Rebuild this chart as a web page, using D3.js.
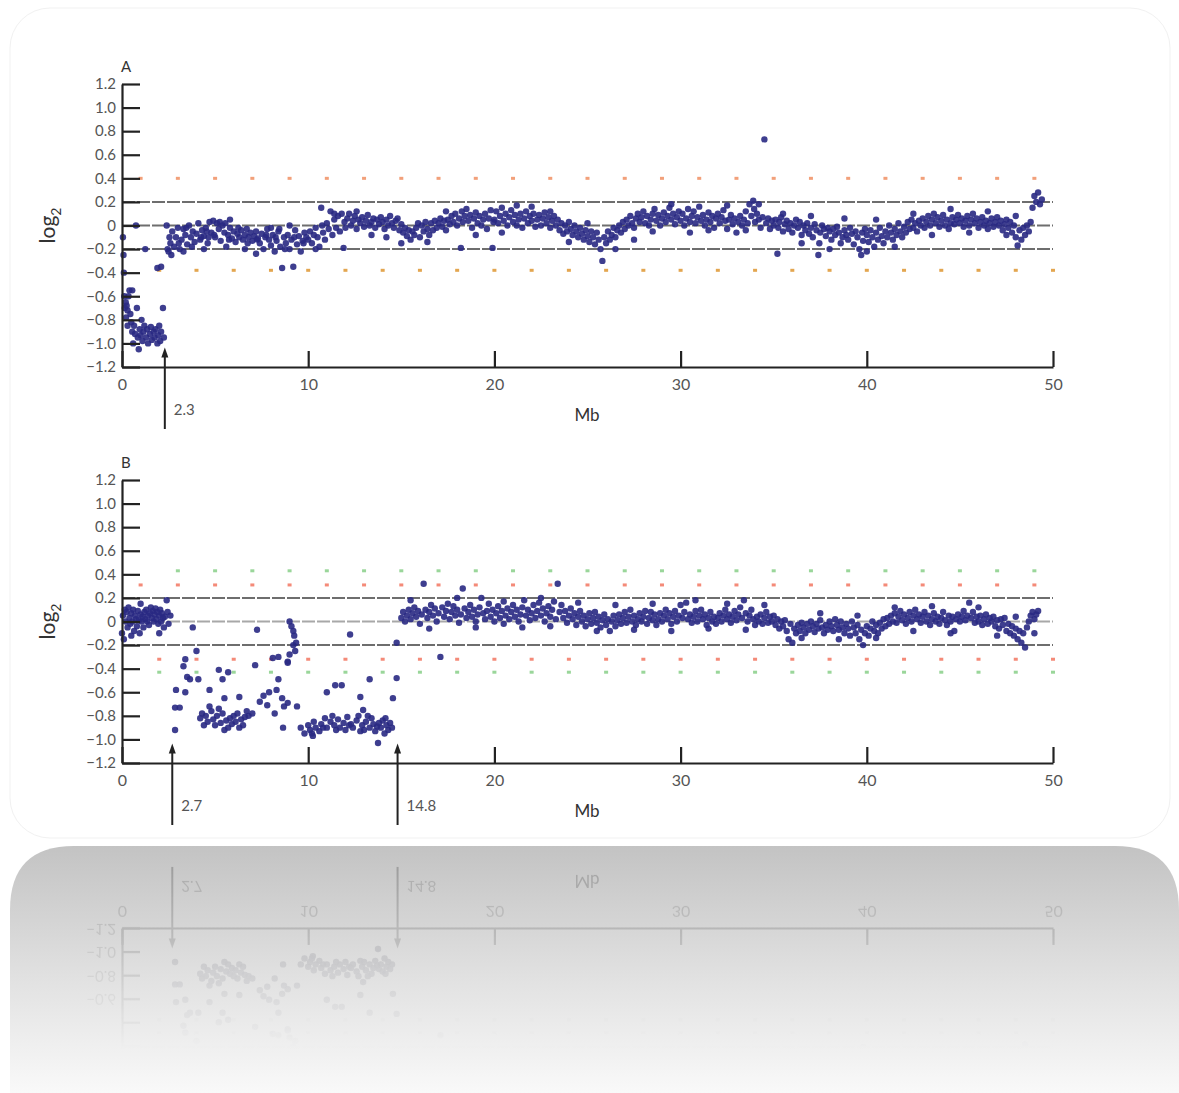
<!DOCTYPE html>
<html lang="en">
<head>
<meta charset="utf-8">
<title>Array CGH log2 profiles</title>
<script src="https://d3js.org/d3.v7.min.js"></script>
<style>
  body { margin: 0; background: #fff; }
  text { font-family: "Lato", "DejaVu Sans", sans-serif; }
</style>
</head>
<body>
<script>
// ---- data (Mb position, log2 ratio) ----
var xTicks = [0, 10, 20, 30, 40, 50];
var yTicks = [1.2, 1.0, 0.8, 0.6, 0.4, 0.2, 0, -0.2, -0.4, -0.6, -0.8, -1.0, -1.2];
var yTickLabels = ["1.2", "1.0", "0.8", "0.6", "0.4", "0.2", "0", "\u22120.2", "\u22120.4", "\u22120.6", "\u22120.8", "\u22121.0", "\u22121.2"];
var refLines = [0.2, 0, -0.2];
var oddMb = [1,3,5,7,9,11,13,15,17,19,21,23,25,27,29,31,33,35,37,39,41,43,45,47,49];
var evenMb = [2,4,6,8,10,12,14,16,18,20,22,24,26,28,30,32,34,36,38,40,42,44,46,48,50];
var breaksA = [2.3];
var breaksB = [2.7, 14.8];

var a0 = [[0.05,-0.1],[0.08,-0.25],[0.1,-0.4],[0.12,-0.6],[0.15,-0.7],[0.2,-0.65],[0.22,-0.78],[0.25,-0.68],[0.3,-0.72],[0.3,-0.85],[0.35,-0.6],[0.4,-0.55],[0.45,-0.75],[0.5,-0.82],[0.55,-0.9],[0.55,-0.55],[0.6,-1.0],[0.65,-0.85],[0.7,-0.92],[0.75,0.0],[0.8,-0.7],[0.85,-0.95],[0.9,-1.05],[0.95,-0.88],[1.0,-0.93],[1.05,-0.8],[1.1,-0.98],[1.15,-0.9],[1.2,-0.85],[1.25,-0.2],[1.3,-0.95],[1.35,-0.88],[1.4,-1.0],[1.5,-0.92],[1.55,-0.86],[1.6,-0.97],[1.7,-0.9],[1.75,-0.95],[1.8,-0.88],[1.9,-1.0],[1.9,-0.36],[1.95,-0.93],[2.0,-0.85],[2.05,-0.98],[2.1,-0.9],[2.1,-0.35],[2.2,-0.7],[2.25,-0.95],
  [2.4,0.0],[2.45,-0.2],[2.5,-0.22],[2.55,-0.1],[2.6,-0.15],[2.65,-0.25],[2.7,-0.05],[2.8,-0.18],[2.9,-0.1],[3.0,-0.02],[3.05,-0.15],[3.1,-0.2],[3.2,-0.12],[3.3,-0.03],[3.4,-0.08],[3.45,-0.02],[3.5,-0.16],[3.6,0.0],[3.7,-0.1],[3.75,-0.18],[3.8,-0.05],[3.9,-0.14],[4.0,-0.07],[4.1,0.02],[4.2,-0.12],[4.25,-0.1],[4.3,-0.04],[4.4,-0.09],[4.5,-0.02],[4.55,-0.05],[4.6,-0.15],[4.65,-0.1],[4.7,0.03],[4.8,-0.06],[4.9,0.04],[4.95,-0.08],[5.0,-0.1],[5.1,0.02],[5.2,-0.03],[5.25,0.03],[5.3,-0.13],[5.4,0.0],[5.5,-0.06],[5.55,0.02],[5.6,-0.18],[5.7,-0.08],[5.75,-0.12],[5.8,-0.02],[5.9,-0.11],[6.0,-0.05],[6.1,-0.14],[6.2,-0.07],[6.25,-0.02],[6.3,-0.1],[6.4,-0.04],[6.5,-0.12],[6.6,-0.08],[6.7,-0.03],[6.75,-0.15],[6.8,-0.1],[6.9,-0.06],[7.0,-0.13],[7.1,-0.09],[7.2,-0.05],[7.25,-0.12],[7.3,-0.11],[7.4,-0.15],[7.5,-0.07],[7.6,-0.2],[7.7,-0.1],[7.75,-0.08],[7.8,-0.03],[7.9,-0.12],[8.0,-0.17],[8.1,-0.08],[8.2,-0.22],[8.25,-0.1],[8.3,-0.13],[8.4,-0.05],[8.45,-0.03],[8.5,-0.18],[8.6,-0.36],[8.7,-0.1],[8.75,-0.2],[8.8,-0.15],[8.9,-0.08],[9.0,-0.2],[9.1,-0.12],[9.2,-0.35],[9.25,-0.1],[9.3,-0.04],[9.4,-0.16],[9.5,-0.09],[9.6,-0.22],[9.7,-0.13],[9.75,-0.15],[9.8,-0.06],[9.9,-0.1]];
var a10 = [[10.0,-0.12],[10.1,-0.05],[10.2,-0.15],[10.3,-0.08],[10.4,-0.02],[10.5,-0.1],[10.6,-0.18],[10.7,0.15],[10.75,0.0],[10.8,-0.06],[10.9,-0.12],[11.0,0.02],[11.1,-0.03],[11.2,0.12],[11.3,-0.08],[11.4,0.05],[11.5,-0.02],[11.6,0.08],[11.7,-0.05],[11.8,0.1],[11.9,-0.19],[11.95,0.03],[12.0,-0.02],[12.1,0.06],[12.2,0.1],[12.3,0.0],[12.4,0.04],[12.5,0.08],[12.6,-0.03],[12.7,0.05],[12.8,0.02],[12.9,0.07],[13.0,-0.01],[13.1,0.04],[13.2,0.09],[13.3,0.0],[13.4,0.03],[13.5,0.06],[13.6,-0.02],[13.7,0.05],[13.8,0.01],[13.9,0.07],[14.0,0.03],[14.1,-0.03],[14.2,0.05],[14.3,0.0],[14.4,0.08],[14.5,0.02],[14.6,-0.02],[14.7,0.04],[14.8,0.06],[14.9,-0.04],[15.0,0.01],[15.1,-0.06],[15.2,-0.02],[15.3,-0.09],[15.4,-0.04],[15.5,-0.12],[15.6,-0.05],[15.7,-0.08],[15.8,-0.02],[15.9,0.02],[16.0,-0.1],[16.1,0.0],[16.2,-0.05],[16.3,0.03],[16.4,-0.03],[16.5,-0.08],[16.6,0.02],[16.7,-0.04],[16.8,0.04],[16.9,-0.02],[17.0,0.02],[17.1,0.06],[17.2,-0.01],[17.3,0.04],[17.4,-0.04],[17.5,0.05],[17.6,0.01],[17.7,0.08],[17.8,0.03],[17.9,0.1],[18.0,0.0],[18.1,0.06],[18.2,-0.19],[18.25,0.12],[18.3,0.03],[18.4,0.08],[18.5,0.14],[18.6,0.04],[18.7,0.09],[18.8,-0.02],[18.9,0.06],[19.0,0.11],[19.1,0.02],[19.2,0.08],[19.3,0.0],[19.4,0.05],[19.5,0.1],[19.6,-0.03],[19.7,0.06],[19.8,0.13],[19.9,-0.19],[19.95,0.03]];
var a20 = [[20.0,0.05],[20.1,0.12],[20.2,0.02],[20.3,0.08],[20.4,0.15],[20.5,0.04],[20.6,0.1],[20.7,0.0],[20.8,0.07],[20.9,0.13],[21.0,0.03],[21.1,0.09],[21.2,0.17],[21.3,0.05],[21.4,0.1],[21.5,-0.02],[21.6,0.06],[21.7,0.12],[21.8,0.02],[21.9,0.08],[22.0,0.04],[22.1,0.1],[22.2,-0.01],[22.3,0.05],[22.4,0.09],[22.5,0.0],[22.6,0.06],[22.7,0.11],[22.8,0.02],[22.9,0.07],[23.0,-0.02],[23.1,0.04],[23.2,0.08],[23.3,0.0],[23.4,0.05],[23.5,-0.04],[23.6,0.02],[23.7,-0.07],[23.8,0.0],[23.9,-0.05],[24.0,0.03],[24.1,-0.03],[24.2,-0.08],[24.3,0.0],[24.4,-0.05],[24.5,-0.1],[24.6,-0.02],[24.7,-0.07],[24.8,-0.12],[24.9,-0.04],[25.0,-0.09],[25.1,-0.14],[25.2,-0.05],[25.3,-0.1],[25.4,-0.16],[25.5,-0.06],[25.6,-0.12],[25.7,-0.2],[25.8,-0.3],[25.9,-0.1],[26.0,-0.15],[26.1,-0.05],[26.2,-0.12],[26.3,-0.08],[26.4,-0.02],[26.5,-0.1],[26.6,-0.04],[26.7,0.0],[26.8,-0.06],[26.9,0.03],[27.0,-0.03],[27.1,0.05],[27.2,0.0],[27.3,0.08],[27.4,0.02],[27.5,-0.02],[27.6,0.06],[27.7,0.1],[27.8,0.03],[27.9,0.07],[28.0,0.12],[28.1,0.02],[28.2,0.08],[28.3,0.0],[28.4,0.05],[28.5,0.1],[28.6,0.14],[28.7,0.04],[28.8,0.09],[28.9,0.0],[29.0,0.06],[29.1,0.11],[29.2,0.03],[29.3,0.08],[29.4,0.15],[29.5,0.05],[29.6,0.1],[29.7,0.01],[29.8,0.07],[29.9,0.12]];
var a30 = [[30.0,0.04],[30.1,0.1],[30.2,0.0],[30.3,0.06],[30.4,0.14],[30.5,0.03],[30.6,0.08],[30.7,0.12],[30.8,0.02],[30.9,0.07],[31.0,0.16],[31.1,0.04],[31.2,0.09],[31.3,0.0],[31.4,0.05],[31.5,0.11],[31.6,0.03],[31.7,0.08],[31.8,-0.02],[31.9,0.06],[32.0,0.1],[32.1,0.02],[32.2,0.07],[32.3,0.13],[32.4,0.04],[32.5,-0.03],[32.6,0.05],[32.7,0.09],[32.8,0.01],[32.9,0.06],[33.0,-0.06],[33.1,0.03],[33.2,0.08],[33.3,0.0],[33.4,0.05],[33.5,-0.04],[33.6,0.02],[33.7,0.18],[33.8,0.08],[33.9,0.21],[33.95,0.14],[34.0,0.03],[34.1,0.1],[34.2,0.05],[34.3,-0.02],[34.4,0.07],[34.5,0.73],[34.6,0.02],[34.7,0.06],[34.8,-0.03],[34.9,0.04],[35.0,0.0],[35.1,0.05],[35.2,-0.24],[35.25,-0.02],[35.3,0.03],[35.4,0.07],[35.5,-0.05],[35.6,0.01],[35.7,0.04],[35.8,-0.03],[35.9,0.02],[36.0,-0.06],[36.1,0.0],[36.2,0.05],[36.3,-0.02],[36.4,0.03],[36.5,-0.08],[36.6,0.0],[36.7,-0.04],[36.8,0.02],[36.9,-0.07],[37.0,-0.02],[37.1,-0.1],[37.2,0.01],[37.3,-0.04],[37.4,-0.25],[37.45,-0.15],[37.5,-0.06],[37.6,0.0],[37.7,-0.03],[37.8,-0.09],[37.9,-0.02],[38.0,-0.05],[38.1,-0.12],[38.2,-0.03],[38.3,-0.08],[38.4,-0.01],[38.5,-0.06],[38.6,-0.15],[38.7,-0.1],[38.8,-0.04],[38.9,-0.08],[39.0,-0.12],[39.1,-0.02],[39.2,-0.07],[39.3,-0.16],[39.4,-0.05],[39.5,-0.1],[39.6,-0.2],[39.7,-0.25],[39.75,-0.06],[39.8,-0.13],[39.9,-0.03]];
var a40 = [[40.0,-0.08],[40.1,-0.14],[40.2,-0.04],[40.3,-0.1],[40.4,-0.18],[40.5,-0.06],[40.6,-0.12],[40.7,-0.02],[40.8,-0.09],[40.9,-0.15],[41.0,-0.05],[41.1,-0.1],[41.2,0.0],[41.3,-0.06],[41.4,-0.12],[41.5,-0.03],[41.6,-0.08],[41.7,0.02],[41.8,-0.05],[41.9,-0.1],[42.0,-0.01],[42.1,-0.06],[42.2,0.03],[42.3,-0.03],[42.4,0.05],[42.5,-0.02],[42.6,0.02],[42.7,-0.05],[42.8,0.04],[42.9,0.0],[43.0,0.06],[43.1,-0.02],[43.2,0.03],[43.3,0.08],[43.4,0.0],[43.5,0.05],[43.6,0.1],[43.7,0.02],[43.8,0.07],[43.9,-0.01],[44.0,0.04],[44.1,0.09],[44.2,0.0],[44.3,0.05],[44.4,-0.03],[44.5,0.02],[44.6,0.07],[44.7,0.01],[44.8,0.05],[44.9,0.09],[45.0,0.02],[45.1,0.06],[45.2,-0.01],[45.3,0.04],[45.4,0.08],[45.5,0.0],[45.6,0.05],[45.7,0.1],[45.8,0.02],[45.9,0.06],[46.0,-0.02],[46.1,0.03],[46.2,0.07],[46.3,0.0],[46.4,0.04],[46.5,-0.03],[46.6,0.02],[46.7,0.06],[46.8,-0.01],[46.9,0.03],[47.0,0.07],[47.1,0.0],[47.2,0.04],[47.3,-0.04],[47.4,0.01],[47.5,0.05],[47.6,-0.02],[47.7,0.03],[47.8,-0.06],[47.9,0.0],[48.0,-0.1],[48.1,-0.17],[48.2,-0.04],[48.3,-0.12],[48.4,-0.02],[48.5,-0.08],[48.6,0.0],[48.7,-0.05],[48.8,0.03],[48.9,0.15],[49.0,0.25],[49.1,0.2],[49.2,0.28],[49.3,0.18],[49.4,0.22]];
var aScatter = [[3.3,-0.22],[4.4,-0.2],[5.8,0.05],[6.6,-0.2],[7.2,-0.24],[8.0,-0.02],[9.0,0.0],[10.4,-0.2],[11.4,0.1],[12.6,0.12],[13.4,-0.08],[14.2,-0.1],[15.0,-0.15],[16.4,-0.14],[17.4,0.12],[19.0,-0.08],[20.4,-0.06],[21.2,0.0],[22.0,0.16],[23.0,0.12],[24.0,-0.14],[25.0,0.02],[26.5,-0.2],[27.5,-0.12],[28.5,-0.05],[29.5,0.18],[30.5,-0.06],[31.5,-0.04],[32.5,0.17],[33.5,0.12],[34.2,0.18],[35.5,0.1],[36.5,-0.15],[37.0,0.08],[38.0,-0.2],[38.8,0.06],[40.0,-0.22],[40.5,0.05],[41.5,-0.18],[42.5,0.1],[43.5,-0.08],[44.5,0.14],[45.5,-0.06],[46.5,0.12],[47.5,-0.08],[48.0,0.08]];

var b0 = [[0.0,-0.1],[0.05,0.05],[0.1,-0.15],[0.15,0.1],[0.2,0.0],[0.25,0.08],[0.3,-0.05],[0.35,0.12],[0.4,0.03],[0.45,-0.02],[0.5,0.07],[0.5,-0.12],[0.55,0.0],[0.6,0.1],[0.65,-0.08],[0.7,0.05],[0.75,0.02],[0.8,-0.04],[0.85,0.09],[0.9,0.01],[0.95,-0.1],[1.0,0.06],[1.0,0.15],[1.05,0.0],[1.1,0.04],[1.15,-0.05],[1.2,0.08],[1.25,0.02],[1.3,0.1],[1.35,0.0],[1.4,0.05],[1.45,-0.03],[1.5,0.07],[1.55,0.12],[1.6,0.03],[1.65,0.09],[1.7,0.0],[1.75,0.06],[1.8,0.11],[1.85,0.02],[1.9,0.08],[1.95,-0.02],[2.0,0.05],[2.0,-0.1],[2.05,0.1],[2.1,0.0],[2.15,0.07],[2.2,0.03],[2.25,-0.05],[2.3,0.04],[2.4,0.18],[2.45,0.08],[2.5,-0.02],[2.6,0.05],
  [2.85,-0.92],[2.85,-0.73],[2.9,-0.58],[3.1,-0.73],[3.3,-0.38],[3.4,-0.32],[3.4,-0.6],[3.5,-0.47],[3.65,-0.49],[3.8,-0.05],[4.0,-0.25],[4.1,-0.49],
  [4.2,-0.82],[4.3,-0.78],[4.4,-0.88],[4.5,-0.8],[4.6,-0.85],[4.7,-0.58],[4.7,-0.72],[4.8,-0.76],[4.9,-0.83],[5.0,-0.88],[5.1,-0.8],[5.2,-0.41],[5.2,-0.74],[5.3,-0.86],[5.4,-0.49],[5.4,-0.78],[5.5,-0.65],[5.5,-0.92],[5.6,-0.84],[5.7,-0.43],[5.7,-0.9],[5.8,-0.82],[5.9,-0.87],[6.0,-0.8],[6.1,-0.85],[6.2,-0.78],[6.3,-0.64],[6.3,-0.9],[6.4,-0.83],[6.5,-0.88],[6.6,-0.81],[6.7,-0.76],[6.8,-0.8],[7.0,-0.78],
  [7.15,-0.37],[7.25,-0.07],[7.4,-0.68],[7.6,-0.63],[7.8,-0.71],[7.9,-0.6],[8.1,-0.31],[8.2,-0.78],[8.3,-0.58],[8.4,-0.49],[8.4,-0.3],[8.6,-0.65],[8.65,-0.9],[8.7,-0.72],[8.9,-0.34],[8.9,-0.69],[9.0,0.0],[9.0,-0.28],[9.1,-0.04],[9.2,-0.08],[9.2,-0.2],[9.25,-0.12],[9.3,-0.25],[9.35,-0.18],[9.4,-0.72],[8.9,-0.35],
  [9.6,-0.9],[9.8,-0.95],[10.0,-0.88],[10.1,-0.92],[10.2,-0.95],[10.25,-0.97],[10.3,-0.85],[10.4,-0.9],[10.6,-0.93],[10.7,-0.87],[10.8,-0.9],[10.9,-0.82],[11.0,-0.6],[11.0,-0.9],[11.2,-0.85],[11.3,-0.8],[11.4,-0.88],[11.45,-0.54],[11.5,-0.92],[11.6,-0.83],[11.7,-0.9],[11.8,-0.54],[11.9,-0.86],[12.0,-0.92],[12.1,-0.81],[12.2,-0.88],[12.25,-0.11],[12.3,-0.87],[12.4,-0.9],[12.6,-0.84],[12.7,-0.8],[12.8,-0.64],[12.8,-0.93],[12.9,-0.88],[12.95,-0.75],[13.0,-0.92],[13.1,-0.85],[13.2,-0.8],[13.3,-0.49],[13.3,-0.9],[13.4,-0.82],[13.5,-0.87],[13.6,-0.93],[13.7,-0.89],[13.75,-1.03],[13.8,-0.86],[13.9,-0.9],[14.0,-0.84],[14.1,-0.95],[14.15,-0.82],[14.2,-0.88],[14.3,-0.92],[14.4,-0.86],[14.5,-0.9],[14.55,-0.65],[14.75,-0.48],[14.75,-0.18]];
var b15 = [[15.0,0.03],[15.1,0.08],[15.2,0.0],[15.3,0.05],[15.4,0.1],[15.5,0.02],[15.6,0.07],[15.7,0.12],[15.8,0.04],[15.9,0.09],[16.0,-0.02],[16.1,0.06],[16.2,0.32],[16.3,0.1],[16.4,0.03],[16.5,0.08],[16.6,0.14],[16.7,0.05],[16.8,0.11],[16.9,0.0],[17.0,0.07],[17.1,-0.3],[17.2,0.12],[17.3,0.04],[17.4,0.09],[17.5,0.15],[17.6,0.02],[17.7,0.08],[17.8,0.13],[17.9,0.05],[18.0,0.1],[18.1,-0.01],[18.2,0.06],[18.3,0.28],[18.4,0.11],[18.5,0.03],[18.6,0.08],[18.7,0.14],[18.8,0.04],[18.9,0.1],[19.0,0.0],[19.1,0.06],[19.2,0.12],[19.3,0.2],[19.4,0.07],[19.5,0.02],[19.6,0.09],[19.7,0.15],[19.8,0.04],[19.9,0.1],
  [20.0,0.0],[20.1,0.07],[20.2,0.13],[20.3,0.03],[20.4,0.09],[20.5,-0.02],[20.6,0.05],[20.7,0.11],[20.8,0.02],[20.9,0.08],[21.0,0.14],[21.1,0.04],[21.2,0.1],[21.3,0.0],[21.4,0.06],[21.5,0.12],[21.6,0.18],[21.7,0.05],[21.8,0.1],[21.9,0.01],[22.0,0.07],[22.1,0.14],[22.2,0.03],[22.3,0.09],[22.4,0.16],[22.5,0.05],[22.6,0.11],[22.7,0.0],[22.8,0.07],[22.9,0.13],[23.0,0.04],[23.1,0.1],[23.2,0.17],[23.3,0.02],[23.4,0.32],[23.5,0.08],[23.6,0.14],[23.7,0.03],[23.8,0.09],[23.9,-0.01],[24.0,0.05],[24.1,0.11],[24.2,0.02],[24.3,0.07],[24.4,-0.03],[24.5,0.04],[24.6,0.09],[24.7,0.0],[24.8,0.05],[24.9,-0.04],[25.0,0.02],[25.1,0.07],[25.2,-0.02],[25.3,0.03],[25.4,0.08],[25.5,-0.01],[25.6,0.04],[25.7,-0.05],[25.8,0.01],[25.9,0.06],[26.0,-0.03],[26.1,0.02],[26.2,-0.08],[26.3,0.0],[26.4,0.05],[26.5,-0.04],[26.6,0.01],[26.7,0.06],[26.8,-0.02],[26.9,0.03],[27.0,0.08],[27.1,-0.01],[27.2,0.04],[27.3,0.1],[27.4,0.0],[27.5,0.05],[27.6,-0.03],[27.7,0.02],[27.8,0.07],[27.9,0.0],[28.0,0.04],[28.1,0.09],[28.2,-0.02],[28.3,0.03],[28.4,0.08],[28.5,0.01],[28.6,0.06],[28.7,-0.03],[28.8,0.02],[28.9,0.07],[29.0,0.0],[29.1,0.05],[29.2,0.1],[29.3,0.02],[29.4,0.07],[29.5,-0.02],[29.6,0.04],[29.7,0.09],[29.8,0.0],[29.9,0.05]];
var b30 = [[30.0,0.14],[30.1,0.03],[30.2,0.08],[30.3,0.16],[30.4,0.02],[30.5,0.06],[30.6,-0.01],[30.7,0.04],[30.8,0.09],[30.9,0.0],[31.0,0.05],[31.1,0.1],[31.2,0.02],[31.3,0.06],[31.4,-0.03],[31.5,0.03],[31.6,0.08],[31.7,0.0],[31.8,0.04],[31.9,-0.02],[32.0,0.03],[32.1,0.07],[32.2,0.0],[32.3,0.05],[32.4,0.1],[32.5,0.02],[32.6,0.06],[32.7,-0.01],[32.8,0.04],[32.9,0.09],[33.0,0.01],[33.1,0.06],[33.2,0.12],[33.3,0.03],[33.4,0.18],[33.5,0.07],[33.6,0.0],[33.7,0.05],[33.8,0.1],[33.9,0.02],[34.0,-0.03],[34.1,0.04],[34.2,0.0],[34.3,0.06],[34.4,-0.02],[34.5,0.03],[34.6,0.08],[34.7,-0.01],[34.8,0.04],[34.9,0.0],[35.0,0.05],[35.1,-0.03],[35.2,0.02],[35.3,-0.06],[35.4,0.0],[35.5,-0.04],[35.6,0.01],[35.7,-0.08],[35.8,-0.15],[35.9,-0.02],[36.0,-0.18],[36.1,-0.06],[36.2,-0.1],[36.3,-0.03],[36.4,-0.08],[36.5,-0.01],[36.6,-0.05],[36.7,-0.1],[36.8,-0.02],[36.9,-0.07],[37.0,0.0],[37.1,-0.04],[37.2,-0.09],[37.3,-0.02],[37.4,-0.06],[37.5,0.01],[37.6,-0.05],[37.7,-0.1],[37.8,-0.03],[37.9,-0.07],[38.0,0.0],[38.1,-0.04],[38.2,-0.08],[38.3,0.02],[38.4,-0.03],[38.5,-0.07],[38.6,0.0],[38.7,-0.05],[38.8,-0.1],[38.9,-0.02],[39.0,-0.06],[39.1,-0.12],[39.2,0.0],[39.3,-0.05],[39.4,-0.1],[39.5,-0.03],[39.6,-0.15],[39.7,-0.07],[39.8,-0.2],[39.9,-0.1],
  [40.0,-0.04],[40.1,-0.12],[40.2,-0.06],[40.3,0.0],[40.4,-0.08],[40.5,-0.03],[40.6,-0.1],[40.7,-0.01],[40.8,-0.06],[40.9,0.02],[41.0,-0.04],[41.1,0.03],[41.2,-0.02],[41.3,0.05],[41.4,0.0],[41.5,0.07],[41.6,-0.01],[41.7,0.04],[41.8,0.09],[41.9,0.01],[42.0,0.06],[42.1,-0.02],[42.2,0.03],[42.3,0.08],[42.4,0.0],[42.5,0.05],[42.6,0.1],[42.7,0.02],[42.8,0.06],[42.9,-0.01],[43.0,0.04],[43.1,0.08],[43.2,0.0],[43.3,0.05],[43.4,-0.03],[43.5,0.02],[43.6,0.07],[43.7,0.0],[43.8,0.04],[43.9,-0.02],[44.0,0.03],[44.1,0.08],[44.2,0.01],[44.3,-0.03],[44.4,0.05],[44.5,0.0],[44.6,0.04],[44.7,-0.08],[44.8,0.02],[44.9,0.06],[45.0,0.0],[45.1,0.04],[45.2,0.09],[45.3,0.01],[45.4,0.05],[45.5,0.16],[45.6,0.03],[45.7,0.08],[45.8,-0.01],[45.9,0.04],[46.0,0.0],[46.1,0.05],[46.2,-0.03],[46.3,0.02],[46.4,0.06],[46.5,-0.02],[46.6,0.03],[46.7,0.0],[46.8,0.04],[46.9,-0.04],[47.0,0.01],[47.1,-0.06],[47.2,0.02],[47.3,-0.03],[47.4,0.03],[47.5,-0.08],[47.6,-0.02],[47.7,-0.1],[47.8,-0.04],[47.9,-0.12],[48.0,-0.06],[48.1,-0.15],[48.2,-0.08],[48.3,-0.18],[48.4,-0.1],[48.5,-0.22],[48.6,-0.05],[48.7,0.0],[48.8,0.05],[48.9,0.08],[49.0,0.02],[49.1,0.06],[49.2,0.09]];
var bScatter = [[15.5,0.18],[16.5,-0.06],[18.0,0.2],[19.0,-0.05],[20.5,0.17],[21.5,-0.05],[22.5,0.2],[23.0,-0.04],[24.5,0.16],[25.5,-0.08],[26.5,0.14],[27.5,-0.07],[28.5,0.15],[29.5,-0.08],[30.8,0.18],[31.5,-0.06],[32.5,0.15],[33.5,-0.07],[34.5,0.14],[36.5,-0.14],[37.5,0.07],[38.5,-0.15],[39.5,0.05],[40.5,-0.14],[41.5,0.12],[42.5,-0.08],[43.5,0.13],[44.5,-0.1],[46.0,0.12],[47.0,-0.12],[48.0,0.04],[49.0,-0.1]];

var pointsA = a0.concat(a10, a20, a30, a40, aScatter);
var pointsB = b0.concat(b15, b30, bScatter);

// ---- drawing ----
var W = 1179, H = 1093;
var svg = d3.select("body").append("svg").attr("width", W).attr("height", H);
var defs = svg.append("defs");

var bg = defs.append("linearGradient").attr("id", "panelGrad")
  .attr("x1", 0).attr("y1", 0).attr("x2", 0).attr("y2", 1);
bg.append("stop").attr("offset", "0%").attr("stop-color", "#c3c3c3");
bg.append("stop").attr("offset", "55%").attr("stop-color", "#e2e2e2");
bg.append("stop").attr("offset", "100%").attr("stop-color", "#f9f9f9");

var fade = defs.append("linearGradient").attr("id", "fadeGrad")
  .attr("gradientUnits", "userSpaceOnUse")
  .attr("x1", 0).attr("y1", 846).attr("x2", 0).attr("y2", 1050);
fade.append("stop").attr("offset", "0%").attr("stop-color", "#fff").attr("stop-opacity", 0.28);
fade.append("stop").attr("offset", "100%").attr("stop-color", "#fff").attr("stop-opacity", 0);
defs.append("mask").attr("id", "fadeMask")
  .append("rect").attr("x", 0).attr("y", 846).attr("width", W).attr("height", H - 846)
  .attr("fill", "url(#fadeGrad)");
defs.append("filter").attr("id", "grey")
  .append("feColorMatrix").attr("type", "saturate").attr("values", 0.15);

// card and reflection panel
svg.append("rect").attr("x", 10).attr("y", 8).attr("width", 1160).attr("height", 830)
  .attr("rx", 40).attr("fill", "#fff").attr("stroke", "#f1f1f1");
svg.append("path")
  .attr("d", "M10,1093 L10,910 Q10,846 74,846 L1115,846 Q1179,846 1179,910 L1179,1093 Z")
  .attr("fill", "url(#panelGrad)");

var x = d3.scaleLinear().domain([0, 50]).range([122, 1053]);

function drawPanel(g, cfg, mirrored) {
  var y = d3.scaleLinear().domain([-1.2, 1.2]).range([cfg.bottom, cfg.top]);

  // reference lines at 0.2, 0, -0.2
  g.selectAll(".ref").data(refLines).enter().append("line")
    .attr("x1", x(0)).attr("x2", x(50))
    .attr("y1", function(d) { return y(d); }).attr("y2", function(d) { return y(d); })
    .attr("stroke", function(d) { return d === 0 ? cfg.zeroColor : "#6e6e6e"; })
    .attr("stroke-width", 2).attr("stroke-dasharray", "13,2");

  // threshold markers
  cfg.markers.forEach(function(m) {
    g.selectAll(null).data(m.mb).enter().append("rect")
      .attr("x", function(d) { return x(d) - 2; })
      .attr("y", y(m.value) - 1.5)
      .attr("width", 4).attr("height", 3)
      .attr("fill", m.color);
  });

  // data points
  g.selectAll(".pt").data(cfg.points).enter().append("circle")
    .attr("cx", function(d) { return x(d[0]); })
    .attr("cy", function(d) { return y(d[1]); })
    .attr("r", 3.2)
    .attr("fill", "#292983").attr("fill-opacity", 0.9);

  // axes
  var yAxis = d3.axisLeft(y).tickValues(yTicks)
    .tickFormat(function(d, i) { return yTickLabels[i]; })
    .tickSizeInner(-18).tickSizeOuter(0).tickPadding(6);
  var ya = g.append("g").attr("transform", "translate(" + x(0) + ",0)").call(yAxis);
  ya.selectAll("line").attr("stroke", "#222").attr("stroke-width", 2.2);
  ya.select(".domain").attr("stroke", "#222").attr("stroke-width", 2.2);
  ya.selectAll("text").attr("font-size", 15).attr("fill", "#555");
  if (mirrored) {
    // labels that would fall below the page in the reflection are dropped
    ya.selectAll(".tick").filter(function(d) { return d > -0.5; }).select("text").remove();
  }

  var xAxis = d3.axisBottom(x).tickValues(xTicks).tickFormat(d3.format("d"))
    .tickSizeInner(-16).tickSizeOuter(0).tickPadding(12);
  var xa = g.append("g").attr("transform", "translate(0," + cfg.bottom + ")").call(xAxis);
  xa.selectAll("line").attr("stroke", "#222").attr("stroke-width", 2.2);
  xa.select(".domain").attr("stroke", "#222").attr("stroke-width", 2.2);
  xa.selectAll("text").attr("font-size", 16).attr("fill", "#555");

  // labels
  g.append("text").attr("x", 587).attr("y", cfg.bottom + 54)
    .attr("text-anchor", "middle").attr("font-size", 17).attr("fill", "#333").text("Mb");
  if (!mirrored) {
    g.append("text").attr("x", 121).attr("y", cfg.top - 12)
      .attr("font-size", 15).attr("fill", "#333").text(cfg.label);
    var lg = g.append("text")
      .attr("transform", "translate(55," + y(0) + ") rotate(-90)")
      .attr("text-anchor", "middle").attr("font-size", 21).attr("fill", "#333");
    lg.append("tspan").text("log");
    lg.append("tspan").attr("font-size", 14).attr("dy", 6).text("2");
  }

  // breakpoint arrows
  cfg.breaks.forEach(function(b) {
    var bx = x(b);
    g.append("line").attr("x1", bx).attr("x2", bx)
      .attr("y1", cfg.bottom + 62).attr("y2", y(-1.0) + 10)
      .attr("stroke", "#222").attr("stroke-width", 2);
    g.append("path")
      .attr("d", "M" + bx + "," + (y(-1.0) + 4) + " l-3.5,10 l7,0 Z")
      .attr("fill", "#222");
    g.append("text").attr("x", bx + 9).attr("y", cfg.bottom + 48)
      .attr("font-size", 15).attr("fill", "#555").text(b.toFixed(1));
  });
}

var cfgA = {
  top: 84, bottom: 367, points: pointsA, label: "A", breaks: breaksA, zeroColor: "#6e6e6e",
  markers: [
    { mb: oddMb, value: 0.4, color: "#f2a07a" },
    { mb: evenMb, value: -0.38, color: "#e3a650" }
  ]
};
var cfgB = {
  top: 480, bottom: 763, points: pointsB, label: "B", breaks: breaksB, zeroColor: "#a8a8a8",
  markers: [
    { mb: oddMb.slice(1), value: 0.43, color: "#9ad69a" },
    { mb: oddMb, value: 0.31, color: "#f48a78" },
    { mb: evenMb, value: -0.32, color: "#f48a78" },
    { mb: evenMb, value: -0.43, color: "#9ad69a" }
  ]
};

drawPanel(svg.append("g"), cfgA, false);
drawPanel(svg.append("g"), cfgB, false);

// mirrored, faded copy of panel B inside the grey panel
var refl = svg.append("g").attr("mask", "url(#fadeMask)").attr("filter", "url(#grey)");
drawPanel(refl.append("g").attr("transform", "translate(0,1692) scale(1,-1)"), cfgB, true);
</script>
</body>
</html>
